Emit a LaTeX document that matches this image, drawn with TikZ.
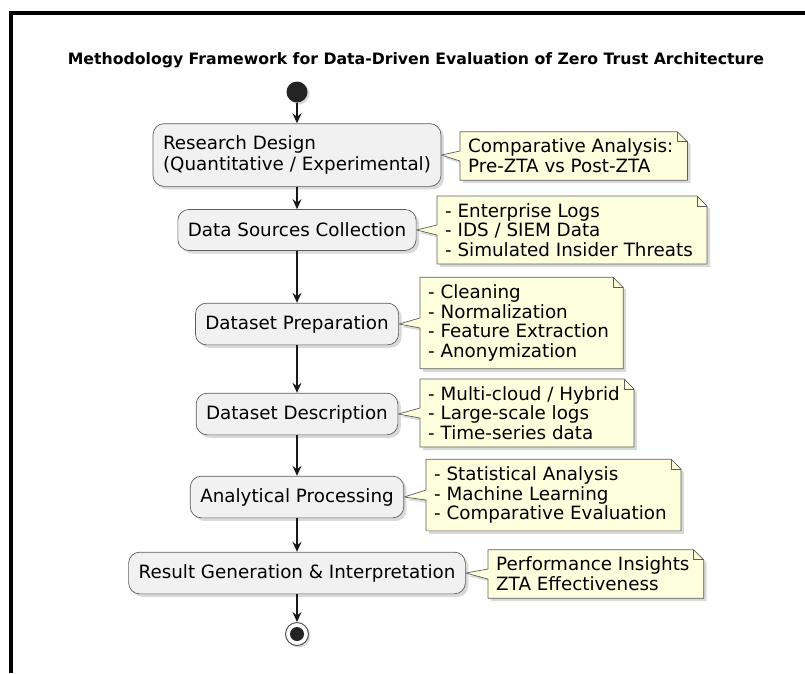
\documentclass[tikz,border=0pt]{standalone}
\usepackage{fontspec}
\setmainfont{DejaVu Sans}
\usetikzlibrary{arrows.meta}
\usetikzlibrary{shadows}
\usetikzlibrary{backgrounds}
\definecolor{actfill}{HTML}{F1F1F1}
\definecolor{notefill}{HTML}{FEFFDD}
\definecolor{lineclr}{HTML}{181818}

\begin{document}
\begin{tikzpicture}[x=1pt, y=-1pt,
  act/.style={draw=lineclr!70, fill=actfill, line width=0.7pt, rounded corners=11pt, inner xsep=10pt, inner ysep=12pt, minimum height=41pt, align=left, font=\fontsize{18.3}{21}\selectfont, drop shadow={shadow xshift=3pt, shadow yshift=-3pt, opacity=0.3}},
  note/.style={anchor=west, align=left, inner xsep=8pt, inner ysep=7pt, font=\fontsize{18.3}{19.8}\selectfont},
  notebg/.style={draw=lineclr!70, fill=notefill, line width=0.7pt, line join=round, drop shadow={shadow xshift=3pt, shadow yshift=-3pt, opacity=0.3}},
  fold/.style={draw=lineclr!70, line width=0.7pt},
  flow/.style={draw=lineclr, line width=1.4pt, -{Stealth[length=10pt, width=9pt, inset=3.5pt]}}]
\useasboundingbox (0,0) rectangle (805,673);
\draw [line width=4pt] (11,673)--(11,13)--(805,13);

\node (title) at (416,60) {\fontsize{15.7}{18}\selectfont\bfseries Methodology Framework for Data-Driven Evaluation of Zero Trust Architecture};

\node [circle, fill=lineclr!95, minimum size=21pt, inner sep=0pt, drop shadow={shadow xshift=2pt, shadow yshift=-2pt, opacity=0.3}] (start) at (297,92) {};
\node [act] (design) at (297,155) {Research Design\\(Quantitative / Experimental)};
\node [act] (sources) at (297,230) {Data Sources Collection};
\node [act] (prep) at (297,324) {Dataset Preparation};
\node [act] (descr) at (297,414) {Dataset Description};
\node [act] (proc) at (297,497) {Analytical Processing};
\node [act] (result) at (297,573) {Result Generation \& Interpretation};
\node [circle, draw=lineclr!75, fill=white, line width=1pt, minimum size=23pt, inner sep=0pt, drop shadow={shadow xshift=2pt, shadow yshift=-2pt, opacity=0.3}] (stop) at (297,634) {};
\fill [lineclr!95] (stop) circle (7pt);

\node [note] (n1) at (460,156) {Comparative Analysis:\\Pre-ZTA vs Post-ZTA};
\node [note] (n2) at (437,230) {- Enterprise Logs\\- IDS / SIEM Data\\- Simulated Insider Threats};
\node [note] (n3) at (420,323) {- Cleaning\\- Normalization\\- Feature Extraction\\- Anonymization};
\node [note] (n4) at (420,413) {- Multi-cloud / Hybrid\\- Large-scale logs\\- Time-series data};
\node [note] (n5) at (426,495) {- Statistical Analysis\\- Machine Learning\\- Comparative Evaluation};
\node [note] (n6) at (488,574) {Performance Insights\\ZTA Effectiveness};

\begin{scope}[on background layer]
\draw [notebg] (n1.south west)--([yshift=-5pt]n1.west)--(design.east)--([yshift=5pt]n1.west)--(n1.north west)--([xshift=-4pt]n1.north east)--([xshift=6pt,yshift=-10pt]n1.north east)--([xshift=6pt]n1.south east)--cycle;
\draw [notebg] (n2.south west)--([yshift=-5pt]n2.west)--(sources.east)--([yshift=5pt]n2.west)--(n2.north west)--([xshift=-4pt]n2.north east)--([xshift=6pt,yshift=-10pt]n2.north east)--([xshift=6pt]n2.south east)--cycle;
\draw [notebg] (n3.south west)--([yshift=-5pt]n3.west)--(prep.east)--([yshift=5pt]n3.west)--(n3.north west)--([xshift=-4pt]n3.north east)--([xshift=6pt,yshift=-10pt]n3.north east)--([xshift=6pt]n3.south east)--cycle;
\draw [notebg] (n4.south west)--([yshift=-5pt]n4.west)--(descr.east)--([yshift=5pt]n4.west)--(n4.north west)--([xshift=-4pt]n4.north east)--([xshift=6pt,yshift=-10pt]n4.north east)--([xshift=6pt]n4.south east)--cycle;
\draw [notebg] (n5.south west)--([yshift=-5pt]n5.west)--(proc.east)--([yshift=5pt]n5.west)--(n5.north west)--([xshift=-4pt]n5.north east)--([xshift=6pt,yshift=-10pt]n5.north east)--([xshift=6pt]n5.south east)--cycle;
\draw [notebg] (n6.south west)--([yshift=-5pt]n6.west)--(result.east)--([yshift=5pt]n6.west)--(n6.north west)--([xshift=-4pt]n6.north east)--([xshift=6pt,yshift=-10pt]n6.north east)--([xshift=6pt]n6.south east)--cycle;
\end{scope}
\draw [fold] ([xshift=-4pt]n1.north east)|-([xshift=6pt,yshift=-10pt]n1.north east);
\draw [fold] ([xshift=-4pt]n2.north east)|-([xshift=6pt,yshift=-10pt]n2.north east);
\draw [fold] ([xshift=-4pt]n3.north east)|-([xshift=6pt,yshift=-10pt]n3.north east);
\draw [fold] ([xshift=-4pt]n4.north east)|-([xshift=6pt,yshift=-10pt]n4.north east);
\draw [fold] ([xshift=-4pt]n5.north east)|-([xshift=6pt,yshift=-10pt]n5.north east);
\draw [fold] ([xshift=-4pt]n6.north east)|-([xshift=6pt,yshift=-10pt]n6.north east);

\draw [flow] (start)--(design);
\draw [flow] (design)--(sources);
\draw [flow] (sources)--(prep);
\draw [flow] (prep)--(descr);
\draw [flow] (descr)--(proc);
\draw [flow] (proc)--(result);
\draw [flow] (result)--(stop);

\end{tikzpicture}
\end{document}
